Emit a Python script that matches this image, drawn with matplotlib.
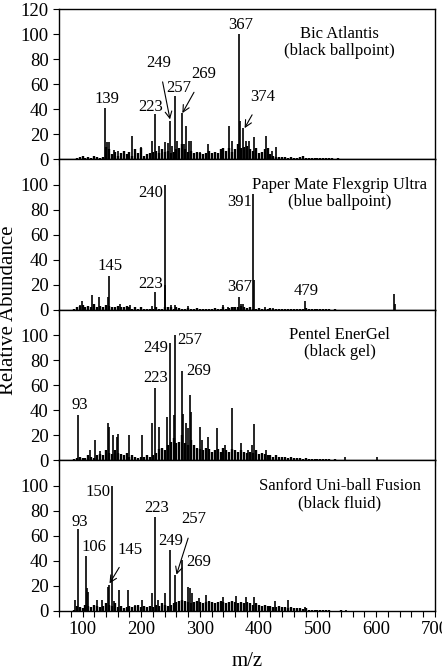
import matplotlib.pyplot as plt
from matplotlib.ticker import MultipleLocator

plt.rcParams['font.family'] = ['Liberation Serif', 'DejaVu Serif']

# m/z grid for the low-level background ions (intensities)
base_mz = list(range(85, 565, 5))

# Bic Atlantis (black ballpoint)
bic_mz = [139, 141, 145, 153, 160, 170, 184, 200, 218, 223, 230, 241, 245, 249, 253,
          257, 261, 269, 272, 277, 281, 284, 300, 313, 340, 350, 355, 367, 368, 374,
          379, 384, 392, 412, 422, 429]
bic_int = [41, 14, 14, 7.5, 7, 6, 19, 10, 15, 36, 11, 14, 13, 31, 11,
           51, 15, 37, 12, 27, 15, 15, 6, 12, 9, 27, 15, 100, 31, 25,
           15, 15, 18, 18.5, 7, 10]
bic_base = [0.5, 1, 2, 3, 1, 2, 1, 3, 2, 1, 2, 10,
            8, 4, 6, 3, 5, 7, 4, 6, 3, 8, 5, 9,
            3, 4, 5, 6, 7, 5, 8, 6, 7, 5, 6, 8,
            9, 12, 8, 6, 7, 5, 6, 5, 4, 5, 7, 5,
            6, 5, 8, 9, 7, 9, 6, 8, 12, 9, 10, 11,
            8, 7, 9, 5, 6, 8, 9, 4, 3, 2, 2, 2,
            2, 1.5, 2, 1.5, 1, 2, 3, 1.5, 1, 1, 1, 1.5,
            1, 1.5, 1, 1, 0.8, 0.5, 0.8, 0.5, 0.3, 0.5, 0.3, 0.3]

# Paper Mate Flexgrip Ultra (blue ballpoint)
pm_mz = [95, 99, 117, 128, 143, 145, 163, 181, 200, 218, 223, 240, 241, 251, 258,
         280, 340, 348, 357, 367, 369, 373, 391, 392, 410, 425, 479, 630, 632]
pm_int = [4, 7, 12, 10, 10.5, 27, 5, 4, 2, 3, 14.5, 100, 20, 4, 4,
          3, 4, 2.5, 2.5, 10, 5, 4.5, 92.5, 24, 2, 1.5, 7, 13, 5]
pm_base = [1, 2, 3, 4, 2, 3, 2, 5, 2, 3, 2, 4,
           3, 2, 2, 3, 2, 2, 3, 2, 1, 2, 1, 2,
           1, 1, 1, 1, 2, 1, 1, 2, 2, 2, 1, 2,
           1.5, 1, 1, 1.5, 1, 1, 1.5, 1, 1, 1, 1, 1,
           1.5, 1, 1, 2, 1, 1.5, 2, 2, 2, 3, 2, 1.5,
           2, 1, 1, 1.5, 1, 1, 1, 1.5, 1, 1, 1, 1,
           1, 1, 1, 1, 0.5, 1, 1, 1.5, 1, 1, 0.5, 0.5,
           0.5, 0.5, 0.5, 0.5, 0.3, 0.5, 0.3, 0.3, 0.3, 0.3, 0.3, 0.3]

# Pentel EnerGel (black gel)
pen_mz = [93, 113, 121, 130, 143, 145, 152, 159, 161, 179, 201, 218, 223, 230, 244,
          249, 255, 257, 269, 271, 276, 279, 283, 285, 300, 303, 313, 329, 343, 355,
          370, 382, 388, 392, 413, 547, 601]
pen_int = [36.5, 8.5, 16.5, 7.5, 30, 27, 20.5, 18.5, 21, 20, 20, 30, 58, 27, 35,
           94, 36, 100, 71, 37, 30, 26, 52, 39, 27, 16, 19, 26, 12.5, 42,
           14, 8.5, 12.5, 29, 8, 3, 3]
pen_base = [1, 2, 3, 2, 2, 4, 3, 2, 4, 5, 4, 8,
            6, 5, 8, 6, 5, 4, 6, 3, 4, 3, 2, 3,
            3, 4, 3, 4, 6, 9, 10, 8, 12, 15, 18, 14,
            15, 20, 14, 12, 16, 12, 10, 9, 8, 10, 9, 7,
            8, 9, 7, 10, 8, 7, 9, 8, 7, 8, 7, 6,
            7, 6, 8, 5, 6, 5, 4, 4, 3, 4, 3, 3,
            3, 2, 3, 2, 2, 2, 1.5, 2, 1, 1, 1, 1.5,
            1, 1, 0.8, 1, 0.5, 0.8, 0.5, 0.5, 0.3, 0.3, 0.3, 0.3]

# Sanford Uni-ball Fusion (black fluid)
san_mz = [87, 93, 106, 108, 110, 119, 125, 133, 143, 145, 150, 154, 162, 178, 189,
          202, 218, 223, 229, 241, 249, 257, 269, 279, 283, 286, 298, 311, 340, 361,
          378, 392, 410, 428, 450, 479, 548]
san_int = [9, 65, 44, 18.5, 15, 5, 9, 8.5, 19, 21, 100, 8, 16.5, 16.5, 4.5,
           8.5, 14, 75, 8.5, 14.5, 49, 29, 41, 19.5, 18, 14, 10.5, 12.5, 11, 12,
           11.5, 11.5, 4.5, 8, 9, 3, 1]
san_base = [1, 4, 3, 2, 5, 4, 3, 5, 4, 3, 4, 6,
            5, 4, 6, 3, 4, 2, 3, 4, 3, 4, 5, 3,
            4, 3, 4, 3, 5, 4, 6, 5, 4, 5, 6, 7,
            8, 9, 8, 7, 6, 7, 8, 7, 6, 7, 8, 7,
            6, 7, 8, 7, 6, 7, 8, 7, 6, 7, 6, 7,
            6, 5, 6, 5, 4, 5, 4, 4, 3, 3, 4, 3,
            3, 2, 3, 2, 2, 2, 1.5, 2, 1, 1, 0.8, 0.5,
            0.5, 0.5, 0.5, 0.5, 0.3, 0.3, 0.3, 0.5, 0.3, 0.3, 0.3, 0.3]

names = ['Bic Atlantis\n(black ballpoint)',
         'Paper Mate Flexgrip Ultra\n(blue ballpoint)',
         'Pentel EnerGel\n(black gel)',
         'Sanford Uni-ball Fusion\n(black fluid)']

panels = [(bic_mz, bic_int, bic_base), (pm_mz, pm_int, pm_base),
          (pen_mz, pen_int, pen_base), (san_mz, san_int, san_base)]

# peak labels: (text, text x, text y, arrow tip or None)
labels = [
    [('139', 142, 48, None), ('223', 216, 42, None), ('249', 230, 77, (249, 32)),
     ('257', 264, 57, None), ('269', 307, 68, (270, 37)), ('367', 369, 107, None),
     ('374', 406, 50, (376, 25))],
    [('145', 147, 35, None), ('223', 216, 21, None), ('240', 216, 93, None),
     ('367', 367, 18, None), ('391', 367, 86, None), ('479', 480, 15, None)],
    [('93', 95, 44, None), ('223', 224, 66, None), ('249', 224, 90, None),
     ('257', 283, 96, None), ('269', 297, 71, None)],
    [('93', 96, 71, None), ('106', 120, 51, None), ('145', 181, 49, (146, 22)),
     ('150', 127, 95, None), ('223', 226, 82, None), ('249', 250, 56, None),
     ('257', 290, 73, (260, 29)), ('269', 297, 39, None)],
]

fig, axes = plt.subplots(4, 1, sharex=True, figsize=(4.42, 6.72), dpi=100)
fig.subplots_adjust(left=0.1335, right=0.984, bottom=0.0908, top=0.9866, hspace=0)

for i, ax in enumerate(axes):
    mz, inten, base = panels[i]
    ax.vlines(base_mz, 0, base, color='k', lw=1.7)
    ax.vlines(mz, 0, inten, color='k', lw=1.2)
    ax.set_xlim(60, 700)
    ax.set_ylim(0, 120)
    ax.xaxis.set_major_locator(MultipleLocator(100))
    ax.xaxis.set_minor_locator(MultipleLocator(20))
    if i == 0:
        ax.set_yticks(range(0, 121, 20))
    else:
        ax.set_yticks(range(0, 101, 20))
    ax.tick_params(which='both', direction='out', length=4, width=0.8, labelsize=13.5)
    for s in ax.spines.values():
        s.set_linewidth(1.0)
    ax.text(538, 93, names[i], ha='center', va='center', fontsize=12, linespacing=1.1)
    for txt, tx, ty, tip in labels[i]:
        if tip is None:
            ax.text(tx, ty, txt, ha='center', va='center', fontsize=12)
        else:
            ax.annotate(txt, xy=tip, xytext=(tx, ty), ha='center', va='center', fontsize=12,
                        arrowprops=dict(arrowstyle='->', lw=0.8, color='k',
                                        shrinkA=6, shrinkB=0))

fig.text(0.02, 1 - 310 / 672, 'Relative Abundance', rotation=90, ha='center', va='center',
         fontsize=15)
fig.text(247 / 442, 1 - 662 / 672, 'm/z', ha='center', va='center', fontsize=15)

plt.savefig('out.png')
